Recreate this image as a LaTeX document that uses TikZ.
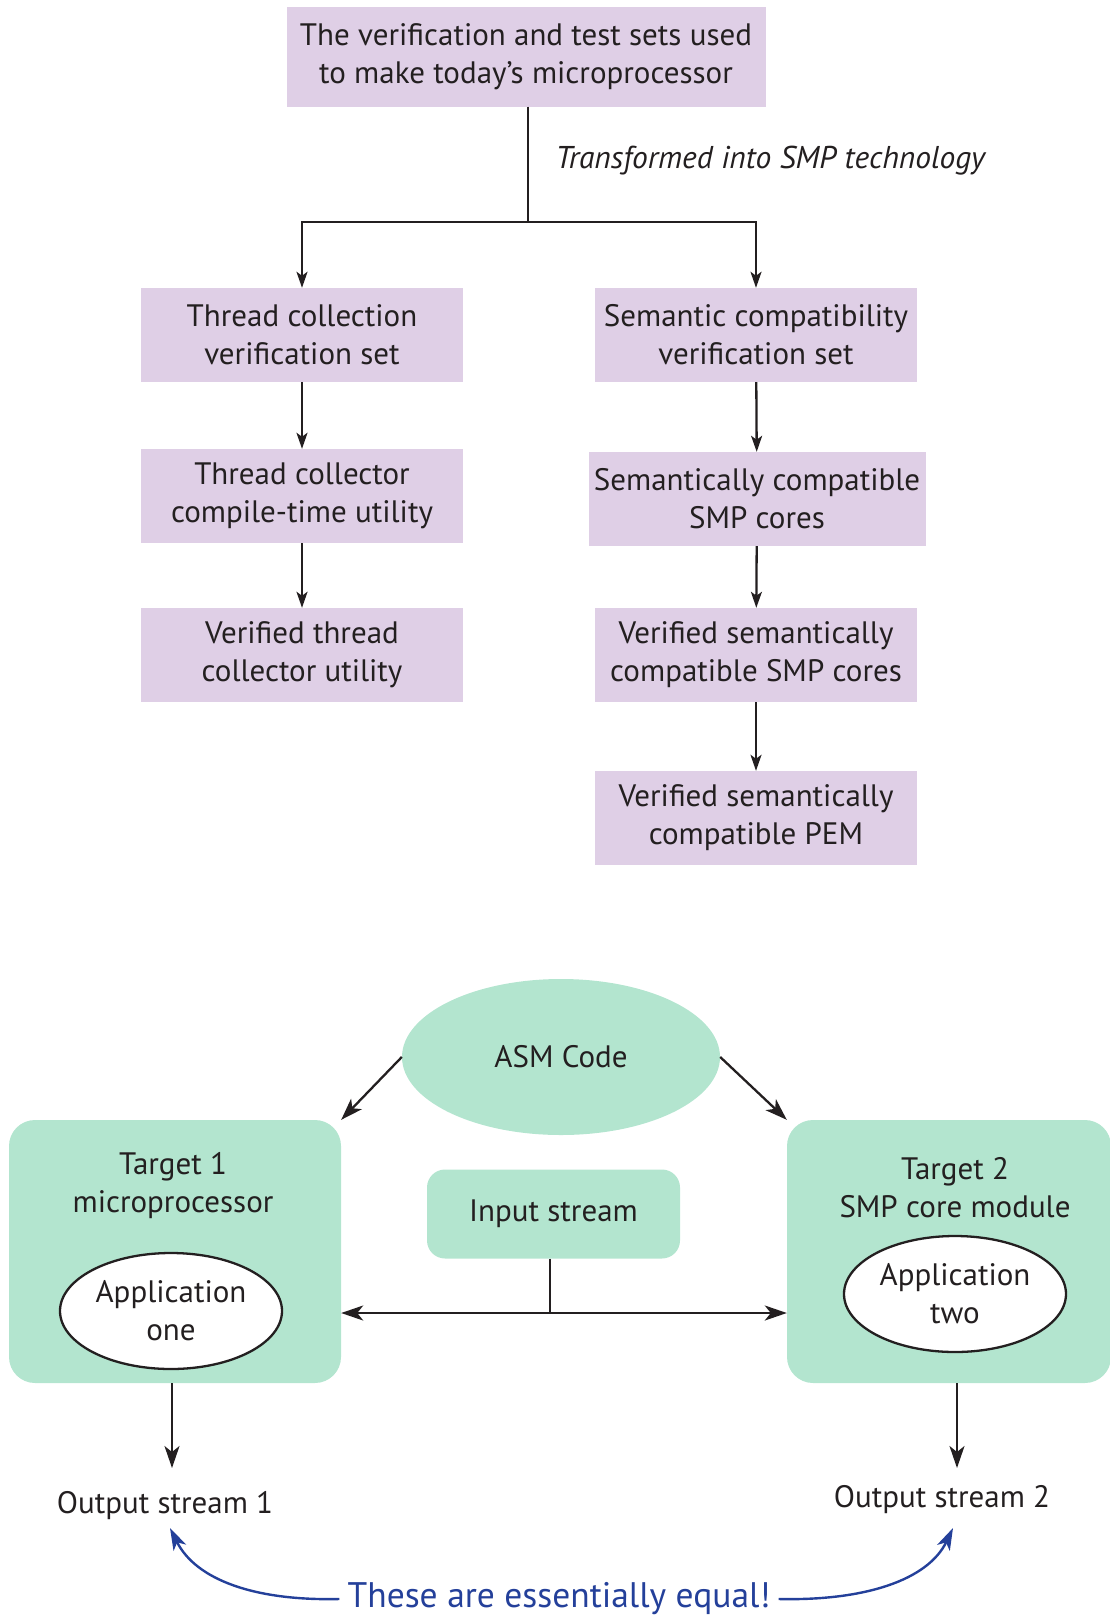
\documentclass[tikz,border=0pt]{standalone}
\usepackage{fontspec}
\setmainfont{PT Sans}
\usetikzlibrary{arrows.meta,shapes.geometric}
\definecolor{lav}{HTML}{DFCFE6}
\definecolor{mint}{HTML}{B3E5CF}
\definecolor{ink}{HTML}{231F20}
\definecolor{navy}{HTML}{24409A}
\begin{document}
\begin{tikzpicture}[x=1pt,y=-1pt,
  font=\fontsize{31}{38}\selectfont, text=ink,
  setbox/.style={fill=lav, draw=none, minimum width=322pt, minimum height=94pt,
    align=center, inner sep=0pt},
  flow/.style={draw=ink, line width=2.3pt, -{Stealth[length=16pt,width=11pt,inset=4pt]}},
  flowbig/.style={draw=ink, line width=2.3pt, -{Stealth[length=22pt,width=15pt,inset=6pt]}},
  plain/.style={draw=ink, line width=2.3pt},
  targetbox/.style={fill=mint, draw=none, rounded corners=26pt, inner sep=0pt},
  appell/.style={ellipse, draw=ink, line width=2.3pt, fill=white, inner sep=0pt,
    minimum width=222pt, minimum height=116pt, align=center},
  bluearrow/.style={draw=navy, line width=2.4pt, -{Stealth[length=22pt,width=14pt,inset=6pt]}},
]
\useasboundingbox (0,0) rectangle (1109,1619);

% ---------- verification flow ----------
\node[setbox, minimum width=479pt, minimum height=99pt] (top) at (526,57)
  {The verification and test sets used\\to make today’s microprocessor};
\node[font=\fontsize{31.5}{38}\selectfont\itshape, anchor=west] (xf) at (552,161)
  {Transformed into SMP technology};

\node[setbox] (l1) at (302,335) {Thread collection\\verification set};
\node[setbox] (l2) at (302,496) {Thread collector\\compile-time utility};
\node[setbox] (l3) at (302,655) {Verified thread\\collector utility};

\node[setbox] (r1) at (756,335) {Semantic compatibility\\verification set};
\node[setbox, minimum width=337pt] (r2) at (757,499) {Semantically compatible\\SMP cores};
\node[setbox] (r3) at (756,655) {Verified semantically\\compatible SMP cores};
\node[setbox] (r4) at (756,818) {Verified semantically\\compatible PEM};

\coordinate (split) at (528,222);
\draw[plain] (top.south -| split) -- (split);
\draw[flow] (split) -| (l1.north);
\draw[flow] (split) -| (r1.north);
\draw[flow] (l1) -- (l2);
\draw[flow] (l2) -- (l3);
\draw[flow] (r1) -- (r2);
\draw[flow] (r2) -- (r3);
\draw[flow] (r3) -- (r4);

% ---------- execution on two targets ----------
\node[ellipse, fill=mint, draw=none, minimum width=318pt, minimum height=156pt,
  inner sep=0pt] (asm) at (561,1057) {ASM Code};

\node[targetbox, minimum width=332pt, minimum height=263pt] (t1) at (175,1251.5) {};
\node[targetbox, minimum width=324pt, minimum height=263pt] (t2) at (949,1251.5) {};

\node[align=center] (t1lab) at (173,1186) {Target 1\\microprocessor};
\node[align=center] (t2lab) at (955,1188) {Target 2\\SMP core module};

\node[appell] (app1) at (171,1311) {Application\\one};
\node[appell] (app2) at (955,1294) {Application\\two};

\node[fill=mint, rounded corners=18pt, minimum width=253pt, minimum height=89pt,
  inner sep=0pt] (inp) at (553.5,1214) {Input stream};

\draw[flowbig] (asm.west) -- (t1.north east);
\draw[flowbig] (asm.east) -- (t2.north west);

\coordinate (junc) at (550,1313);
\draw[plain] (inp.south -| junc) -- (junc);
\draw[flowbig] (junc) -- (t1.east |- junc);
\draw[flowbig] (junc) -- (t2.west |- junc);

\node (out1) at (165,1506) {Output stream 1};
\node (out2) at (942,1500) {Output stream 2};

\coordinate (o1tip) at (172,1468);
\coordinate (o2tip) at (957,1468);
\draw[flowbig] (t1.south -| o1tip) -- (o1tip);
\draw[flowbig] (t2.south -| o2tip) -- (o2tip);

\node[text=navy, font=\fontsize{35.5}{40}\selectfont, inner sep=8pt] (eq) at (559,1599)
  {These are essentially equal!};
\coordinate (b1tip) at (170,1528);
\coordinate (b2tip) at (953,1528);
\draw[bluearrow] (eq.west) .. controls (255,1601) and (196,1580) .. (b1tip);
\draw[bluearrow] (eq.east) .. controls (865,1601) and (928,1580) .. (b2tip);
\end{tikzpicture}
\end{document}
